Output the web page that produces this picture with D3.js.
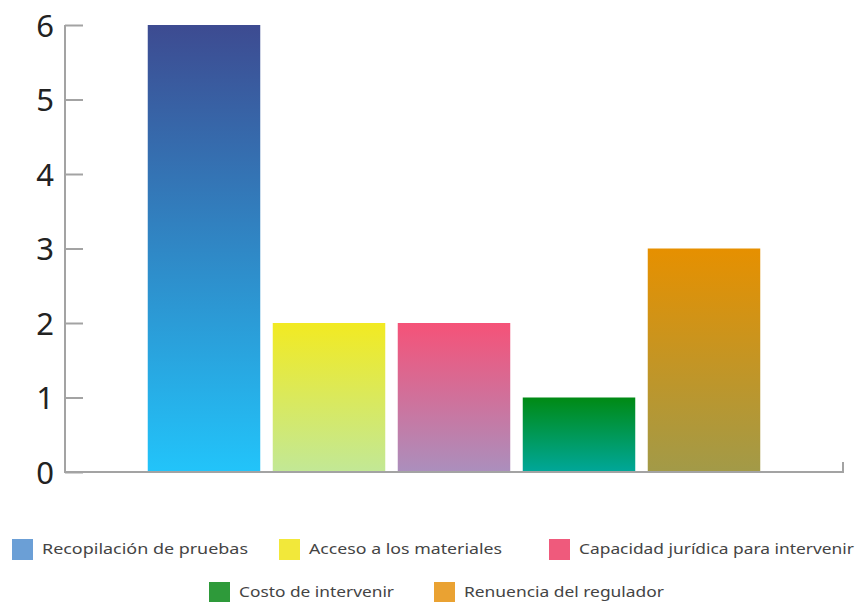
<!DOCTYPE html>
<html>
<head>
<meta charset="utf-8">
<script src="https://cdn.jsdelivr.net/npm/d3@7"></script>
<style>
  html, body { margin: 0; padding: 0; background: #fff; }
  svg { display: block; font-family: "Noto Sans", Lato, sans-serif; }
</style>
</head>
<body>
<svg id="chart" width="867" height="602"></svg>
<script>
// Categories and counts
const categories = [
  "Recopilación de pruebas",
  "Acceso a los materiales",
  "Capacidad jurídica para intervenir",
  "Costo de intervenir",
  "Renuencia del regulador"
];
const values = [6, 2, 2, 1, 3];
const yTicks = [0, 1, 2, 3, 4, 5, 6];

// Bar gradients (top, bottom) and legend swatch colours
const gradTop = ["#3d4b91", "#f2ea22", "#f55278", "#008a14", "#e69000"];
const gradBottom = ["#22c4fa", "#c2e896", "#ab8fbd", "#00a79a", "#a29a48"];
const legendColors = ["#6b9fd6", "#f2e83a", "#ef5a7c", "#2e9a3a", "#eaa232"];

const svg = d3.select("#chart");

const x = d3.scaleBand()
  .domain(categories)
  .range([65, 843])
  .paddingInner(0.1)
  .paddingOuter(0.662);

const y = d3.scaleLinear()
  .domain([0, 6])
  .range([472, 25]);

// Gradients
const defs = svg.append("defs");
categories.forEach((c, i) => {
  const g = defs.append("linearGradient")
    .attr("id", "grad" + i)
    .attr("x1", 0).attr("y1", 0).attr("x2", 0).attr("y2", 1);
  g.append("stop").attr("offset", "0%").attr("stop-color", gradTop[i]);
  g.append("stop").attr("offset", "100%").attr("stop-color", gradBottom[i]);
});

// Bars
svg.append("g")
  .selectAll("rect")
  .data(categories)
  .join("rect")
  .attr("x", d => x(d))
  .attr("y", (d, i) => y(values[i]))
  .attr("width", x.bandwidth())
  .attr("height", (d, i) => y(0) - y(values[i]))
  .attr("fill", (d, i) => `url(#grad${i})`);

// Y axis
const yAxis = svg.append("g")
  .attr("transform", "translate(65,0)")
  .call(d3.axisRight(y).tickValues(yTicks).tickSize(18).tickFormat(d3.format("d")));
yAxis.select(".domain").remove();
yAxis.selectAll(".tick line").attr("stroke", "#a3a3a3").attr("stroke-width", 2);
yAxis.selectAll(".tick text")
  .attr("x", -11)
  .attr("text-anchor", "end")
  .attr("dy", "0.36em")
  .attr("fill", "#222")
  .style("font-size", "31px")
  .style("font-family", "'Noto Sans', sans-serif");

// Axis lines
svg.append("path")
  .attr("d", `M65,${y(6)}V${y(0)}H843V${y(0) - 10}`)
  .attr("fill", "none")
  .attr("stroke", "#a3a3a3")
  .attr("stroke-width", 2);

// Legend
const legendRows = [
  [{ i: 0, x: 12, w: 206 }, { i: 1, x: 279, w: 193 }, { i: 2, x: 549, w: 275 }],
  [{ i: 3, x: 209, w: 155 }, { i: 4, x: 434, w: 200 }]
];
const rowY = [549, 592];
legendRows.forEach((row, r) => {
  row.forEach(item => {
    const g = svg.append("g").attr("transform", `translate(${item.x},${rowY[r]})`);
    g.append("rect")
      .attr("x", 0).attr("y", -10)
      .attr("width", 21).attr("height", 21)
      .attr("fill", legendColors[item.i]);
    g.append("text")
      .attr("x", 30).attr("y", 0)
      .attr("dy", "0.35em")
      .attr("fill", "#444")
      .attr("textLength", item.w)
      .attr("lengthAdjust", "spacingAndGlyphs")
      .style("font-size", "15px")
      .text(categories[item.i]);
  });
});
</script>
</body>
</html>
